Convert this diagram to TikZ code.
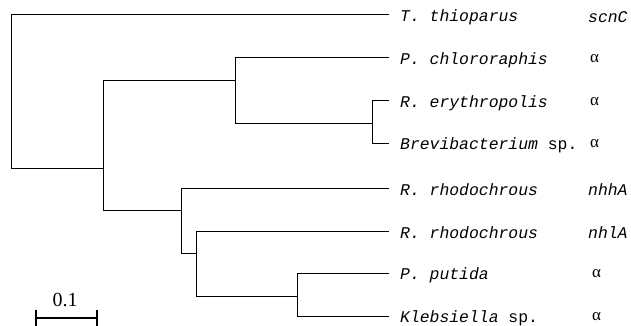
\documentclass[tikz,border=0pt]{standalone}
\usepackage{fontspec}
\setmonofont{Liberation Mono}
\newfontfamily\barfont{Liberation Serif}
\begin{document}
\begin{tikzpicture}[x=1pt,y=-1pt,
  branch/.style={line width=1pt,black},
  taxon/.style={anchor=west,inner sep=0pt,font=\fontsize{16.4}{16}\selectfont\ttfamily\itshape},
  alpha/.style={anchor=west,inner sep=0pt,font=\barfont\fontsize{17}{17}\selectfont}]
\useasboundingbox (0,0) rectangle (631,326);
% internal nodes: x of the vertical bar, y where the parent branch joins
\coordinate (root) at (11,91);
\coordinate (n1) at (103,168);
\coordinate (n2) at (235,81);
\coordinate (n3) at (372,123);
\coordinate (n4) at (181,210);
\coordinate (n5) at (196,253);
\coordinate (n6) at (297,296);
% leaves
\coordinate (l1) at (389,15);
\coordinate (l2) at (389,58);
\coordinate (l3) at (389,101);
\coordinate (l4) at (389,143);
\coordinate (l5) at (389,188);
\coordinate (l6) at (389,231);
\coordinate (l7) at (389,273);
\coordinate (l8) at (389,316);
% rectangular cladogram elbows
\draw[branch] (l1) -- (l1 -| root) -- (root |- n1) -- (n1);
\draw[branch] (n2) -- (n2 -| n1) -- (n4 -| n1) -- (n4);
\draw[branch] (l2) -- (l2 -| n2) -- (n3 -| n2) -- (n3);
\draw[branch] (l3) -- (l3 -| n3) -- (l4 -| n3) -- (l4);
\draw[branch] (l5) -- (l5 -| n4) -- (n5 -| n4) -- (n5);
\draw[branch] (l6) -- (l6 -| n5) -- (n6 -| n5) -- (n6);
\draw[branch] (l7) -- (l7 -| n6) -- (l8 -| n6) -- (l8);
% labels
\node[taxon] (t1) at (400,17) {T. thioparus};
\node[taxon] (t2) at (400,60) {P. chlororaphis};
\node[taxon] (t3) at (400,103) {R. erythropolis};
\node[taxon] (t4) at (400,145) {Brevibacterium\upshape\ sp.};
\node[taxon] (t5) at (400,190) {R. rhodochrous};
\node[taxon] (t6) at (400,233) {R. rhodochrous};
\node[taxon] (t7) at (400,275) {P. putida};
\node[taxon] (t8) at (400,318) {Klebsiella\upshape\ sp.};
\node[taxon] (g1) at (588,17) {scnC};
\node[alpha] (g2) at (590,59) {α};
\node[alpha] (g3) at (590,102) {α};
\node[alpha] (g4) at (590,144) {α};
\node[taxon] (g5) at (588,190) {nhhA};
\node[taxon] (g6) at (588,233) {nhlA};
\node[alpha] (g7) at (592,274) {α};
\node[alpha] (g8) at (592,317) {α};
% scale bar
\coordinate (s1) at (36,318);
\coordinate (s2) at (97,318);
\draw[line width=1.3pt] (s1) -- (s2);
\draw[line width=1.3pt] ([yshift=-9]s1) -- ([yshift=8]s1);
\draw[line width=1.3pt] ([yshift=-9]s2) -- ([yshift=8]s2);
\node[font=\barfont\fontsize{20}{20}\selectfont,anchor=base,inner sep=0pt] (sl) at (65,306) {0.1};
\end{tikzpicture}
\end{document}
